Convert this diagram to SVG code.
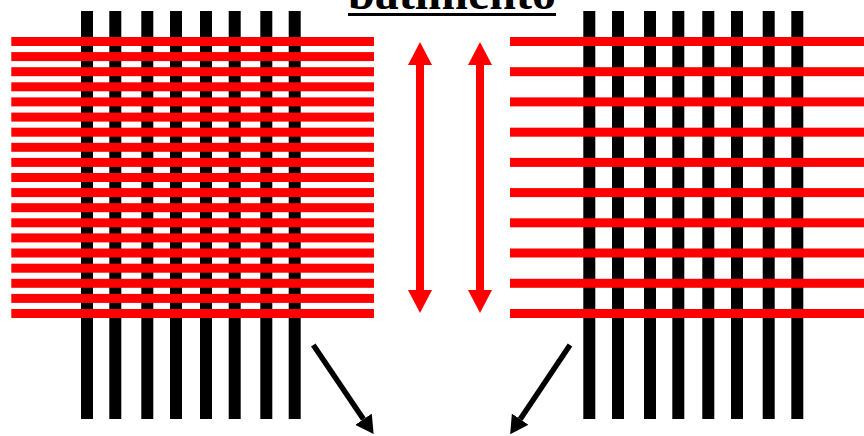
<svg xmlns="http://www.w3.org/2000/svg" width="864" height="436" viewBox="0 0 864 436">
<style>
.warp{fill:#000}
.weft{fill:#ff0000}
.title{font-family:"Liberation Serif","Times New Roman",serif;font-weight:bold;font-size:48px;fill:#000}
.red{stroke:#ff0000;stroke-width:8;fill:none}
.blk{stroke:#000;stroke-width:5.5;fill:none}
</style>
<defs>
<marker id="rh" viewBox="0 0 23 24" refX="0" refY="12" markerWidth="23" markerHeight="24" markerUnits="userSpaceOnUse" orient="auto-start-reverse">
<path d="M0,0 L23,12 L0,24 z" fill="#ff0000"/>
</marker>
<marker id="bh" viewBox="0 0 18 20" refX="0" refY="10" markerWidth="18" markerHeight="20" markerUnits="userSpaceOnUse" orient="auto">
<path d="M0,0 L18,10 L0,20 z" fill="#000"/>
</marker>
</defs>
<rect width="864" height="436" fill="#fff"/>
<g id="title">
<text class="title" x="452" y="8.5" text-anchor="middle">batimento</text>
<rect x="348" y="13" width="208" height="3" fill="#000"/>
</g>
<g id="dense-weave">
<g class="warp">
<rect x="81" y="11" width="12" height="408"/>
<rect x="109.3" y="11" width="12" height="408"/>
<rect x="141.3" y="11" width="12" height="408"/>
<rect x="170" y="11" width="12" height="408"/>
<rect x="200" y="11" width="12" height="408"/>
<rect x="228.7" y="11" width="12" height="408"/>
<rect x="260.3" y="11" width="12" height="408"/>
<rect x="288.7" y="11" width="12" height="408"/>
</g>
<g class="weft">
<rect x="11.3" y="37" width="362.7" height="9"/>
<rect x="11.3" y="52.1" width="362.7" height="9"/>
<rect x="11.3" y="67.2" width="362.7" height="9"/>
<rect x="11.3" y="82.3" width="362.7" height="9"/>
<rect x="11.3" y="97.4" width="362.7" height="9"/>
<rect x="11.3" y="112.6" width="362.7" height="9"/>
<rect x="11.3" y="127.7" width="362.7" height="9"/>
<rect x="11.3" y="142.8" width="362.7" height="9"/>
<rect x="11.3" y="157.9" width="362.7" height="9"/>
<rect x="11.3" y="173" width="362.7" height="9"/>
<rect x="11.3" y="188.1" width="362.7" height="9"/>
<rect x="11.3" y="203.2" width="362.7" height="9"/>
<rect x="11.3" y="218.3" width="362.7" height="9"/>
<rect x="11.3" y="233.4" width="362.7" height="9"/>
<rect x="11.3" y="248.5" width="362.7" height="9"/>
<rect x="11.3" y="263.7" width="362.7" height="9"/>
<rect x="11.3" y="278.8" width="362.7" height="9"/>
<rect x="11.3" y="293.9" width="362.7" height="9"/>
<rect x="11.3" y="309" width="362.7" height="9"/>
</g>
</g>
<g id="open-weave">
<g class="warp">
<rect x="583.3" y="11" width="12" height="408"/>
<rect x="612" y="11" width="12" height="408"/>
<rect x="644" y="11" width="12" height="408"/>
<rect x="672.3" y="11" width="12" height="408"/>
<rect x="702.3" y="11" width="12" height="408"/>
<rect x="731" y="11" width="12" height="408"/>
<rect x="762.7" y="11" width="12" height="408"/>
<rect x="791.3" y="11" width="12" height="408"/>
</g>
<g class="weft">
<rect x="510" y="37" width="354" height="9"/>
<rect x="510" y="67.2" width="354" height="9"/>
<rect x="510" y="97.4" width="354" height="9"/>
<rect x="510" y="127.7" width="354" height="9"/>
<rect x="510" y="157.9" width="354" height="9"/>
<rect x="510" y="188.1" width="354" height="9"/>
<rect x="510" y="218.3" width="354" height="9"/>
<rect x="510" y="248.5" width="354" height="9"/>
<rect x="510" y="278.8" width="354" height="9"/>
<rect x="510" y="309" width="354" height="9"/>
</g>
</g>
<g id="connectors">
<line class="red" x1="420" y1="65" x2="420" y2="290" marker-start="url(#rh)" marker-end="url(#rh)"/>
<line class="red" x1="480" y1="65" x2="480" y2="290" marker-start="url(#rh)" marker-end="url(#rh)"/>
<line class="blk" x1="313.3" y1="345" x2="363.5" y2="419.2" marker-end="url(#bh)"/>
<line class="blk" x1="570" y1="345" x2="520.2" y2="419.2" marker-end="url(#bh)"/>
</g>
</svg>
